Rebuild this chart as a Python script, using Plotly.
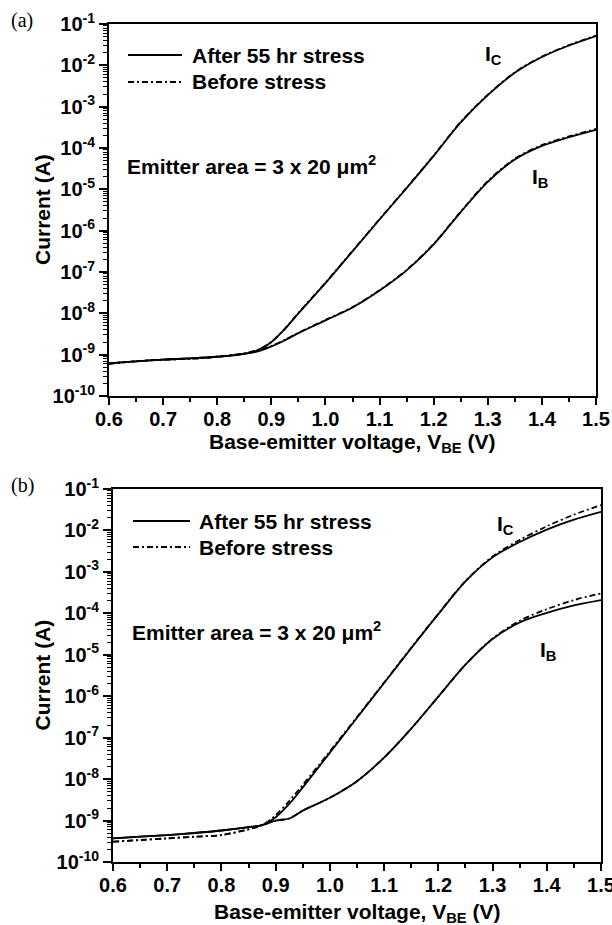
import plotly.graph_objects as go

# ---------------- data (log10 of current in A) ----------------
vbe = [0.60, 0.65, 0.70, 0.75, 0.80, 0.85, 0.875, 0.90, 0.925, 0.95, 1.00,
       1.05, 1.10, 1.15, 1.20, 1.25, 1.30, 1.35, 1.40, 1.45, 1.50]

# panel (a)
log_ic_a_after = [-9.21, -9.16, -9.12, -9.09, -9.05, -8.98, -8.89, -8.70, -8.38, -8.00, -7.27,
                  -6.50, -5.73, -4.97, -4.19, -3.38, -2.72, -2.18, -1.80, -1.52, -1.29]
log_ic_a_before = [-9.22, -9.16, -9.12, -9.10, -9.05, -8.97, -8.88, -8.69, -8.37, -7.99, -7.26,
                   -6.49, -5.72, -4.96, -4.18, -3.37, -2.71, -2.17, -1.79, -1.51, -1.28]
log_ib_a_after = [-9.21, -9.16, -9.12, -9.09, -9.05, -8.98, -8.92, -8.80, -8.65, -8.48, -8.17,
                  -7.86, -7.45, -6.96, -6.33, -5.55, -4.82, -4.28, -3.95, -3.74, -3.56]
log_ib_a_before = [-9.22, -9.16, -9.12, -9.10, -9.05, -8.97, -8.91, -8.79, -8.64, -8.47, -8.16,
                   -7.85, -7.44, -6.95, -6.32, -5.54, -4.80, -4.26, -3.93, -3.72, -3.54]

# panel (b)
log_ic_b_after = [-9.43, -9.39, -9.35, -9.30, -9.24, -9.16, -9.11, -8.92, -8.60, -8.20, -7.36,
                  -6.52, -5.68, -4.84, -4.02, -3.23, -2.65, -2.28, -1.98, -1.74, -1.55]
log_ic_b_before = [-9.51, -9.47, -9.43, -9.39, -9.35, -9.21, -9.11, -8.87, -8.53, -8.14, -7.33,
                   -6.50, -5.67, -4.83, -4.01, -3.22, -2.63, -2.23, -1.90, -1.62, -1.39]
log_ib_b_after = [-9.43, -9.39, -9.35, -9.30, -9.24, -9.16, -9.11, -9.00, -8.95, -8.76, -8.45,
                  -8.05, -7.48, -6.78, -6.01, -5.24, -4.62, -4.22, -3.99, -3.81, -3.68]
log_ib_b_before = [-9.51, -9.47, -9.43, -9.39, -9.35, -9.21, -9.11, -9.00, -8.95, -8.76, -8.45,
                   -8.05, -7.48, -6.78, -6.01, -5.24, -4.61, -4.18, -3.90, -3.68, -3.52]

y_exponents = [-10, -9, -8, -7, -6, -5, -4, -3, -2, -1]
x_ticks = [0.6, 0.7, 0.8, 0.9, 1.0, 1.1, 1.2, 1.3, 1.4, 1.5]

# ---------------- figure ----------------
W, H = 612, 925
FONT = "Liberation Sans"
DASHDOT = "6px,3px,2px,3px"


def fx(x):
    return x / W


def fy(y):
    return 1 - y / H


def to_amp(logs):
    return [10 ** v for v in logs]


fig = go.Figure()

panels = [
    dict(xa="x", ya="y", ic_a=log_ic_a_after, ic_b=log_ic_a_before,
         ib_a=log_ib_a_after, ib_b=log_ib_a_before),
    dict(xa="x2", ya="y2", ic_a=log_ic_b_after, ic_b=log_ic_b_before,
         ib_a=log_ib_b_after, ib_b=log_ib_b_before),
]

for p in panels:
    for key, dash, nm in [("ic_b", DASHDOT, "Before stress"), ("ib_b", DASHDOT, "Before stress"),
                          ("ic_a", "solid", "After 55 hr stress"), ("ib_a", "solid", "After 55 hr stress")]:
        fig.add_trace(go.Scatter(
            x=vbe, y=to_amp(p[key]), mode="lines", name=nm, showlegend=False,
            line=dict(color="black", width=1.8, dash=dash, shape="spline", smoothing=0.9),
            xaxis=p["xa"], yaxis=p["ya"]))

minor_vals = [k * 10.0 ** e for e in y_exponents[:-1] for k in range(2, 10)]

tickfont = dict(family=FONT, size=20, color="black")

yaxis_common = dict(
    type="log", range=[-10, -1], tickmode="array",
    tickvals=[10.0 ** e for e in y_exponents],
    ticktext=[f"<b>10<sup>{e}</sup></b>" for e in y_exponents],
    ticks="outside", ticklen=8, tickwidth=2, tickcolor="black",
    minor=dict(tickmode="array", tickvals=minor_vals, ticks="outside",
               ticklen=4, tickwidth=1, tickcolor="black", showgrid=False),
    showline=True, linewidth=2, linecolor="black", mirror=True,
    showgrid=False, zeroline=False, automargin=False,
    tickfont=tickfont,
)
xaxis_common = dict(
    range=[0.6, 1.5], tickmode="array", tickvals=x_ticks,
    ticktext=[f"<b>{v:.1f}</b>" for v in x_ticks],
    ticks="outside", ticklen=7, tickwidth=2, tickcolor="black",
    minor=dict(dtick=0.05, tick0=0.6, ticks="outside", ticklen=4,
               tickwidth=1.5, tickcolor="black", showgrid=False),
    showline=True, linewidth=2, linecolor="black", mirror=True,
    showgrid=False, zeroline=False, automargin=False,
    ticklabeloverflow="allow", ticklabelstandoff=-3,
    tickfont=tickfont,
)

# panel pixel boxes: (left, right, top, bottom)
box_a = (109, 596, 24, 396)
box_b = (113, 601, 489, 862)

fig.update_layout(
    width=W, height=H, margin=dict(l=0, r=0, t=0, b=0),
    paper_bgcolor="white", plot_bgcolor="white", showlegend=False,
    xaxis=dict(xaxis_common, domain=[fx(box_a[0]), fx(box_a[1])], anchor="y"),
    yaxis=dict(yaxis_common, domain=[fy(box_a[3]), fy(box_a[2])], anchor="x"),
    xaxis2=dict(xaxis_common, domain=[fx(box_b[0]), fx(box_b[1])], anchor="y2"),
    yaxis2=dict(yaxis_common, domain=[fy(box_b[3]), fy(box_b[2])], anchor="x2"),
)

shapes = []
annotations = []
plain = dict(family=FONT, size=21, color="black")


def text(x, y, s, font=plain, xanchor="left", textangle=0, b=True):
    annotations.append(dict(x=fx(x), y=fy(y), xref="paper", yref="paper",
                            text=f"<b>{s}</b>" if b else s,
                            showarrow=False, xanchor=xanchor, yanchor="middle",
                            font=font, textangle=textangle))


def legend_line(x0, x1, y, dash):
    shapes.append(dict(type="line", xref="paper", yref="paper", x0=fx(x0), x1=fx(x1),
                       y0=fy(y), y1=fy(y), line=dict(color="black", width=1.8, dash=dash)))


serif = dict(family="Liberation Serif", size=20, color="black")

for box, lab, leg_y, leg_x, emit_y, ic_pos, ib_pos, xt_y in [
    (box_a, "(a)", (55, 82), (128, 182, 190), 165, (493, 55), (540, 178), 443),
    (box_b, "(b)", (521, 547), (133, 190, 197), 631, (505, 525), (548, 651), 913),
]:
    text(22, box[2] - 3, lab, font=serif, xanchor="center", b=False)
    legend_line(leg_x[0], leg_x[1], leg_y[0], "solid")
    legend_line(leg_x[0], leg_x[1], leg_y[1], DASHDOT)
    text(leg_x[2], leg_y[0], "After 55 hr stress")
    text(leg_x[2], leg_y[1], "Before stress")
    text(leg_x[0] - 3, emit_y, "Emitter area = 3 x 20 μm<sup>2</sup>")
    text(ic_pos[0], ic_pos[1], "I<sub>C</sub>", xanchor="center")
    text(ib_pos[0], ib_pos[1], "I<sub>B</sub>", xanchor="center")
    text((box[0] + box[1]) / 2, xt_y, "Base-emitter voltage, V<sub>BE</sub> (V)", xanchor="center")
    text(42, (box[2] + box[3]) / 2, "Current (A)", xanchor="center", textangle=-90)

fig.update_layout(shapes=shapes, annotations=annotations)
fig.write_html("out.html")
